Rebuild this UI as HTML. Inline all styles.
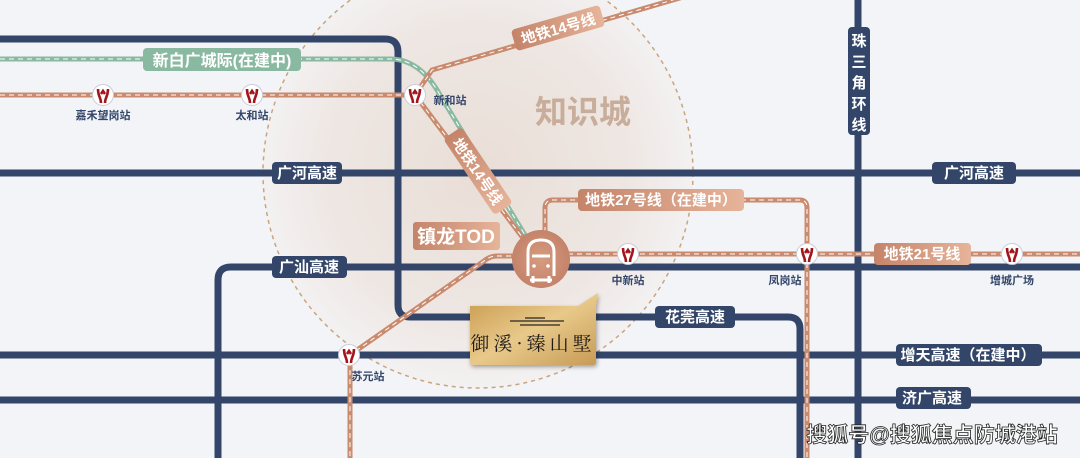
<!DOCTYPE html>
<html><head><meta charset="utf-8"><style>
html,body{margin:0;padding:0;background:#f3f4f7;}
svg{display:block;}
text{font-family:"Liberation Sans","Noto Sans CJK SC",sans-serif;font-weight:bold;}
</style></head><body>
<svg width="1080" height="458" viewBox="0 0 1080 458" xmlns="http://www.w3.org/2000/svg">
<defs>
<radialGradient id="cg" cx="0.5" cy="0.5" r="0.5">
<stop offset="0" stop-color="#e9ddd5" stop-opacity="0.95"/>
<stop offset="0.7" stop-color="#ede4df" stop-opacity="0.85"/>
<stop offset="1" stop-color="#f3efef" stop-opacity="0.7"/>
</radialGradient>
<linearGradient id="cu" x1="0" x2="1"><stop offset="0" stop-color="#c4846a"/><stop offset="1" stop-color="#e6b49a"/></linearGradient>
<linearGradient id="gold" x1="0" y1="0" x2="1" y2="1"><stop offset="0" stop-color="#c99a4e"/><stop offset="0.5" stop-color="#e8c98a"/><stop offset="1" stop-color="#c69a55"/></linearGradient>
<radialGradient id="hub" cx="0.5" cy="0.5" r="0.5"><stop offset="0" stop-color="#d69c80"/><stop offset="1" stop-color="#c4836a"/></radialGradient>
<g id="st"><circle r="10.5" fill="#fff" stroke="#c9ccd6" stroke-width="1"/><path d="M-5,-6 C-5,2 -2,2 -2,8 M5,-6 C5,2 2,2 2,8 M-2,-1 L0,-4 L2,-1" stroke="#a3151c" stroke-width="2.6" fill="none"/></g>
</defs>
<rect width="1080" height="458" fill="#f3f4f7"/>
<circle cx="478" cy="173" r="215" fill="url(#cg)" stroke="#c9a57d" stroke-width="1.5" stroke-dasharray="4 4"/>
<text x="583" y="123" font-size="32" fill="#c8ae9a" text-anchor="middle">知识城</text>
<g stroke="#33466a" stroke-width="7" fill="none">
<path d="M0,39 H385 Q398,39 398,52 V305 Q398,317 410,317 H788 Q800,317 800,329 V458"/>
<path d="M0,173 H1080"/>
<path d="M218,458 V280 Q218,267 231,267 H1080"/>
<path d="M0,355 H1080"/>
<path d="M0,400 H1080"/>
<path d="M858,0 V458"/>
</g>
<path d="M0,59 H390 Q420,59 440,95 L528,240" stroke="#8ab9a2" stroke-width="5" fill="none"/>
<path d="M0,59 H390 Q420,59 440,95 L528,240" stroke="#fff" stroke-width="1" stroke-dasharray="5 4" fill="none"/>
<g fill="none" stroke="#c98a6e" stroke-width="5">
<path d="M0,95 H415"/>
<path d="M415,95 L432,70 L690,-5"/>
<path d="M415,95 L532,250"/>
<path d="M545,259 V208 Q545,200 553,200 H800 Q807,200 807,208 V458"/>
<path d="M541,254 H1080"/>
<path d="M520,256 H497 Q490,256 484,261 L350,355 V458"/>
</g>
<g fill="none" stroke="#fff" stroke-width="1" stroke-dasharray="5 4">
<path d="M0,95 H415"/>
<path d="M415,95 L432,70 L690,-5"/>
<path d="M415,95 L532,250"/>
<path d="M545,259 V208 Q545,200 553,200 H800 Q807,200 807,208 V458"/>
<path d="M541,254 H1080"/>
<path d="M520,256 H497 Q490,256 484,261 L350,355 V458"/>
</g>
<rect x="143" y="48" width="158" height="23" rx="4" fill="#8ab9a2"/>
<text x="222" y="66" font-size="16" fill="#fff" text-anchor="middle">新白广城际(在建中)</text>
<g fill="#33466a">
<rect x="272" y="162" width="70" height="22" rx="4"/>
<rect x="932" y="162" width="84" height="22" rx="4"/>
<rect x="272" y="256" width="75" height="22" rx="4"/>
<rect x="655" y="306" width="80" height="22" rx="4"/>
<rect x="896" y="344" width="146" height="22" rx="4"/>
<rect x="896" y="387" width="75" height="22" rx="4"/>
<rect x="848" y="27" width="22" height="108" rx="4"/>
</g>
<g fill="#fff" font-size="15">
<text x="307" y="178" text-anchor="middle">广河高速</text>
<text x="974" y="178" text-anchor="middle">广河高速</text>
<text x="309" y="272" text-anchor="middle">广汕高速</text>
<text x="695" y="322" text-anchor="middle">花莞高速</text>
<text x="968" y="360" text-anchor="middle">增天高速（在建中）</text>
<text x="932" y="403" text-anchor="middle">济广高速</text>
<text x="859" y="46" text-anchor="middle">珠</text>
<text x="859" y="67" text-anchor="middle">三</text>
<text x="859" y="88" text-anchor="middle">角</text>
<text x="859" y="109" text-anchor="middle">环</text>
<text x="859" y="130" text-anchor="middle">线</text>
</g>
<rect x="512" y="17" width="92" height="22" rx="4" fill="url(#cu)" transform="rotate(-16 558 28)"/>
<text x="558" y="34" font-size="15" fill="#fff" text-anchor="middle" transform="rotate(-16 558 28)">地铁14号线</text>
<rect x="432" y="160" width="92" height="22" rx="4" fill="url(#cu)" transform="rotate(56 478 171)"/>
<text x="478" y="177" font-size="15" fill="#fff" text-anchor="middle" transform="rotate(56 478 171)">地铁14号线</text>
<rect x="578" y="189" width="166" height="22" rx="4" fill="url(#cu)"/>
<text x="661" y="205" font-size="15" fill="#fff" text-anchor="middle">地铁27号线（在建中）</text>
<rect x="874" y="243" width="97" height="22" rx="4" fill="url(#cu)"/>
<text x="922" y="259" font-size="15" fill="#fff" text-anchor="middle">地铁21号线</text>
<rect x="413" y="222" width="87" height="28" rx="3" fill="url(#cu)"/>
<text x="456" y="243" font-size="19" fill="#fff" text-anchor="middle">镇龙TOD</text>
<use href="#st" x="103" y="95"/>
<use href="#st" x="252" y="95"/>
<use href="#st" x="415" y="95"/>
<use href="#st" x="628" y="254"/>
<use href="#st" x="807" y="254"/>
<use href="#st" x="1012" y="254"/>
<use href="#st" x="349" y="355"/>
<g fill="#33466a" font-size="11" text-anchor="middle">
<text x="103" y="119">嘉禾望岗站</text>
<text x="252" y="119">太和站</text>
<text x="450" y="104">新和站</text>
<text x="628" y="284">中新站</text>
<text x="785" y="284">凤岗站</text>
<text x="1012" y="284">增城广场</text>
<text x="368" y="380">苏元站</text>
</g>
<circle cx="541" cy="259" r="29" fill="url(#hub)"/>
<g stroke="#fff" stroke-width="3" fill="none">
<path d="M528,276 V252 Q528,240 541,240 Q554,240 554,252 V276"/>
<path d="M532,256 H550"/>
<path d="M530,280 L552,280 M533,276 V283 M549,276 V283"/>
</g>
<circle cx="534" cy="266" r="1.8" fill="#fff"/><circle cx="548" cy="266" r="1.8" fill="#fff"/>
<path d="M470,306 H578 L598,293 L596,306 V362 Q596,365 593,365 H473 Q470,365 470,362 Z" fill="url(#gold)" filter="drop-shadow(1px 2px 2px rgba(0,0,0,0.35))"/>
<g stroke="#2b2620" stroke-width="1.2"><path d="M510,321 H564 M520,325 H560 M525,318 H545"/></g>
<text x="533" y="350" font-size="19" fill="#1e1a17" text-anchor="middle" letter-spacing="4" style="font-family:'Noto Serif CJK SC',serif;font-weight:normal">御溪·臻山墅</text>
<text x="932" y="442" font-size="21" fill="#fff" stroke="#222" stroke-width="0.8" text-anchor="middle">搜狐号@搜狐焦点防城港站</text>
</svg>
</body></html>
